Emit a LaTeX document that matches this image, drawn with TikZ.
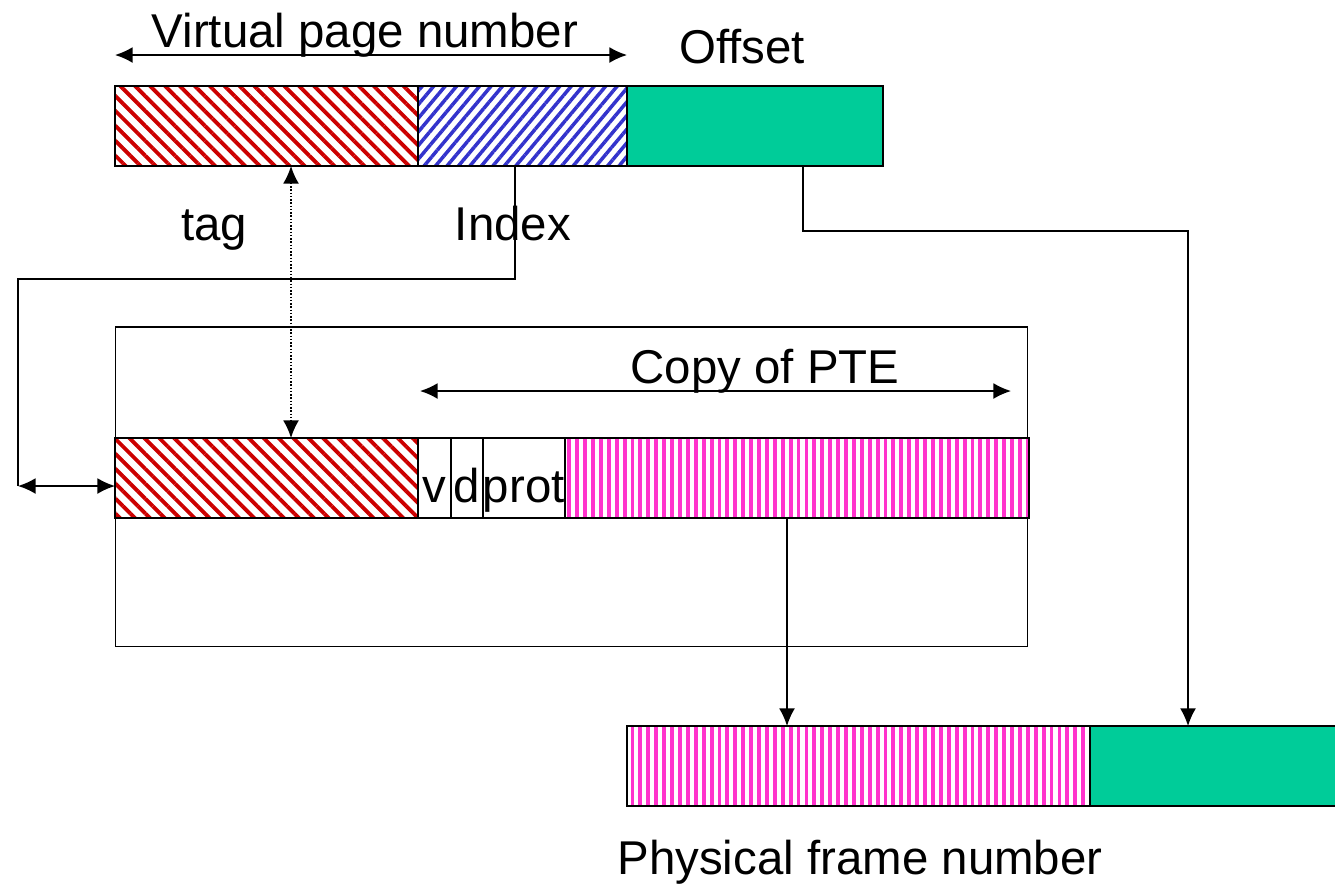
\documentclass[tikz,border=0pt]{standalone}
\usepackage{fontspec}
\setmainfont{Liberation Sans}
\usepackage{tikz}
\usetikzlibrary{arrows.meta,positioning,patterns.meta}
\definecolor{hatchred}{RGB}{204,0,0}
\definecolor{hatchblue}{RGB}{51,51,204}
\definecolor{offgreen}{RGB}{0,204,153}
\definecolor{pfnpink}{RGB}{255,51,204}
\tikzstyle{arrow}=[draw=black, line width=0.85pt, >={Latex[length=10pt,width=9pt]}]
\tikzstyle{field}=[draw=black, line width=1.1pt, inner sep=0pt, outer sep=0pt, minimum height=1.6cm]
\tikzstyle{tagfill}=[pattern={Lines[angle=-45,distance=6pt,line width=2.2pt]}, pattern color=hatchred]
\tikzstyle{idxfill}=[pattern={Lines[angle=50,distance=5pt,line width=2pt]}, pattern color=hatchblue]
\tikzstyle{pfnfill}=[pattern={Lines[angle=90,distance=4.5pt,line width=2.2pt]}, pattern color=pfnpink]
\tikzstyle{label}=[inner sep=0pt, anchor=base, font=\fontsize{27}{32}\selectfont]
\tikzstyle{bit}=[field, line width=0.85pt, font=\fontsize{27}{32}\selectfont, text height=28pt, text depth=0pt]

\begin{document}
\begin{tikzpicture}[x=0.02cm, y=-0.02cm]
		   \useasboundingbox (0,0) rectangle (1335,890);
		   % virtual address
		   \node[field, tagfill, minimum width=6.06cm, anchor=north west] (vtag) at (115,86) {};
		   \node[field, idxfill, minimum width=4.18cm, right=0pt of vtag] (vidx) {};
		   \node[field, fill=offgreen, minimum width=5.12cm, right=0pt of vidx] (voff) {};
		   \node[label] (vpn) at (365,47) {Virtual page number};
		   \node[label] (offset) at (742,63) {Offset};
		   \node[label] (tag) at (214,240) {tag};
		   \node[label] (index) at (513,240) {Index};
		   \coordinate (vpnL) at (115,55);
		   \coordinate (vpnR) at (627,55);
		   \draw[arrow, <->] (vpnL) -- (vpnR);
		   % TLB
		   \node[draw=black, line width=0.85pt, inner sep=0pt, minimum width=18.24cm, minimum height=6.4cm, anchor=north west] (tlb) at (115,326) {};
		   \node[field, tagfill, minimum width=6.06cm, anchor=north west] (etag) at (115,438) {};
		   \node[bit, minimum width=0.66cm, right=0pt of etag] (ev) {v};
		   \node[bit, minimum width=0.64cm, right=0pt of ev] (ed) {d};
		   \node[bit, minimum width=1.6cm, right=0pt of ed] (eprot) {prot};
		   \node[field, pfnfill, minimum width=9.28cm, right=0pt of eprot] (epfn) {};
		   \node[label] (pte) at (765,383) {Copy of PTE};
		   \coordinate (pteL) at (420,391);
		   \coordinate (pteR) at (1011,391);
		   \draw[arrow, <->] (pteL) -- (pteR);
		   % physical address
		   \node[field, pfnfill, minimum width=9.26cm, anchor=north west] (ppfn) at (627,726) {};
		   \node[field, fill=offgreen, minimum width=5.1cm, right=0pt of ppfn] (poff) {};
		   \node[label] (pfn) at (860,874) {Physical frame number};
		   % connectors
		   \coordinate (dot) at (291,300);
		   \draw[arrow, <->, densely dotted] (dot |- vtag.south) -- (dot |- etag.north);
		   \coordinate (idx) at (515,279);
		   \coordinate (lft) at (18,486);
		   \draw[arrow] (idx |- vidx.south) -- (idx) -| (lft);
		   \draw[arrow, <->] (lft) -- (lft -| etag.west);
		   \coordinate (off) at (803,231);
		   \coordinate (offR) at (1188,231);
		   \draw[arrow, ->] (off |- voff.south) -- (off) -- (offR) -- (offR |- poff.north);
		   \coordinate (pf) at (787,600);
		   \draw[arrow, ->] (pf |- epfn.south) -- (pf |- ppfn.north);
	   \end{tikzpicture}
\end{document}
